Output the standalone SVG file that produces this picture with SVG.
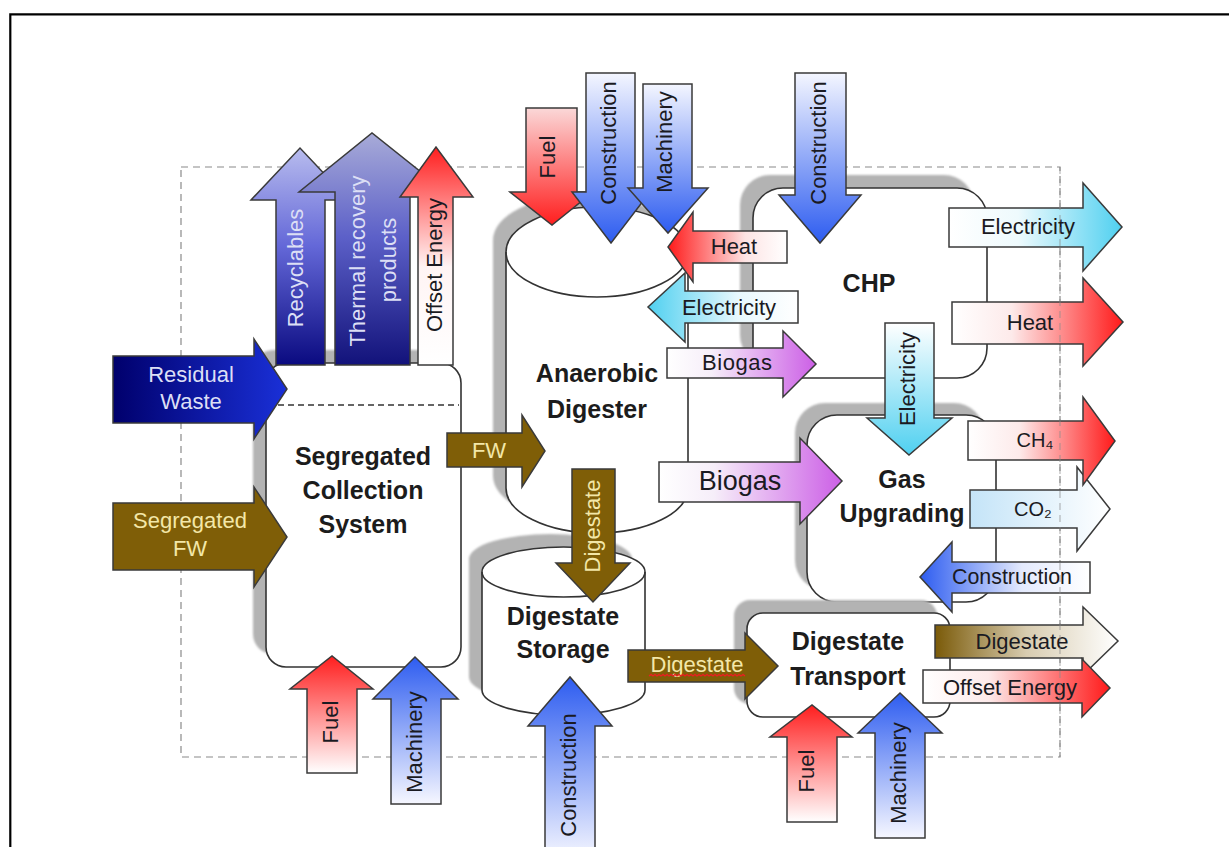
<svg xmlns="http://www.w3.org/2000/svg" width="1229" height="847" viewBox="0 0 1229 847">
<style>
text{font-family:"Liberation Sans",Arial,sans-serif}
.lbl{font-size:22px;fill:#1a1a22;text-anchor:middle}
.lt{font-size:22px;fill:#f3e7a8;text-anchor:middle}
.lw{font-size:22px;fill:#dcdff5;text-anchor:middle}
.node{font-size:25px;font-weight:bold;fill:#1c1c1c;text-anchor:middle}
.box{fill:#fff;stroke:#333;stroke-width:1.6}
.sh{fill:#b3b3b3;filter:url(#blur)}
.ar{stroke:#3a3a3a;stroke-width:1.5;stroke-linejoin:miter}
.brown{fill:#7f5e07}
</style>
<defs>
<filter id="blur" x="-5%" y="-5%" width="110%" height="110%"><feGaussianBlur stdDeviation="1.2"/></filter>
<linearGradient id="gNavyR" x1="0" y1="0" x2="1" y2="0"><stop offset="0" stop-color="#00006c"/><stop offset="1" stop-color="#1a30d8"/></linearGradient>
<linearGradient id="gRecyc" x1="0" y1="0" x2="0" y2="1"><stop offset="0" stop-color="#b8bcee"/><stop offset="0.45" stop-color="#6468d8"/><stop offset="1" stop-color="#0a0a80"/></linearGradient>
<linearGradient id="gThermal" x1="0" y1="0" x2="0" y2="1"><stop offset="0" stop-color="#a8abd8"/><stop offset="0.45" stop-color="#5c60c8"/><stop offset="1" stop-color="#12127a"/></linearGradient>
<linearGradient id="gOffsetUp" x1="0" y1="0" x2="0" y2="1"><stop offset="0" stop-color="#ff1e1e"/><stop offset="0.55" stop-color="#fff4f4"/><stop offset="1" stop-color="#ffffff"/></linearGradient>
<linearGradient id="gRedDown" x1="0" y1="0" x2="0" y2="1"><stop offset="0" stop-color="#fbd8d8"/><stop offset="1" stop-color="#ff1e1e"/></linearGradient>
<linearGradient id="gBlueDown" x1="0" y1="0" x2="0" y2="1"><stop offset="0" stop-color="#f4f6ff"/><stop offset="1" stop-color="#2d5cf0"/></linearGradient>
<linearGradient id="gCyanDown" x1="0" y1="0" x2="0" y2="1"><stop offset="0" stop-color="#ffffff"/><stop offset="1" stop-color="#4fd0f0"/></linearGradient>
<linearGradient id="gRedUp" x1="0" y1="0" x2="0" y2="1"><stop offset="0" stop-color="#ff1e1e"/><stop offset="1" stop-color="#ffffff"/></linearGradient>
<linearGradient id="gBlueUp" x1="0" y1="0" x2="0" y2="1"><stop offset="0" stop-color="#2d5cf0"/><stop offset="1" stop-color="#f6f7ff"/></linearGradient>
<linearGradient id="gRedR" x1="0" y1="0" x2="1" y2="0"><stop offset="0" stop-color="#ffffff"/><stop offset="0.35" stop-color="#fdeaea"/><stop offset="1" stop-color="#ff1a1a"/></linearGradient>
<linearGradient id="gCyanR" x1="0" y1="0" x2="1" y2="0"><stop offset="0" stop-color="#ffffff"/><stop offset="0.4" stop-color="#eefafd"/><stop offset="1" stop-color="#4fd0f0"/></linearGradient>
<linearGradient id="gVioletR" x1="0" y1="0" x2="1" y2="0"><stop offset="0" stop-color="#ffffff"/><stop offset="0.3" stop-color="#f6eef9"/><stop offset="1" stop-color="#cc5fe6"/></linearGradient>
<linearGradient id="gCO2" x1="0" y1="0" x2="1" y2="0"><stop offset="0" stop-color="#c4e4f8"/><stop offset="1" stop-color="#ffffff"/></linearGradient>
<linearGradient id="gBrownR" x1="0" y1="0" x2="1" y2="0"><stop offset="0" stop-color="#7a5a08"/><stop offset="0.5" stop-color="#d8ccb0"/><stop offset="1" stop-color="#ffffff"/></linearGradient>
<linearGradient id="gRedL" x1="0" y1="0" x2="1" y2="0"><stop offset="0" stop-color="#ff1a1a"/><stop offset="0.65" stop-color="#fde4e4"/><stop offset="1" stop-color="#ffffff"/></linearGradient>
<linearGradient id="gCyanL" x1="0" y1="0" x2="1" y2="0"><stop offset="0" stop-color="#4fd0f0"/><stop offset="0.6" stop-color="#e8f8fd"/><stop offset="1" stop-color="#ffffff"/></linearGradient>
<linearGradient id="gBlueL" x1="0" y1="0" x2="1" y2="0"><stop offset="0" stop-color="#2d5cf0"/><stop offset="0.6" stop-color="#e4eafd"/><stop offset="1" stop-color="#ffffff"/></linearGradient>
</defs>
<rect width="1229" height="847" fill="#ffffff"/>
<g id="frame" fill="none" stroke="#000" stroke-width="2.2">
<path d="M10.3,847 V14.3 H1229"/>
</g>
<g id="system-boundary">
<rect x="181" y="167" width="879" height="590" fill="none" stroke="#8a8a8a" stroke-width="1.2" stroke-dasharray="7 5"/>
</g>
<g id="node-segregated-collection">
<rect class="sh" x="253" y="350" width="195" height="304" rx="20"/>
<rect class="box" x="266" y="363" width="195" height="304" rx="20"/>
<line x1="268" y1="405" x2="459" y2="405" stroke="#333" stroke-width="1.4" stroke-dasharray="6 4"/>
<text class="node" x="363" y="465">Segregated</text>
<text class="node" x="363" y="499">Collection</text>
<text class="node" x="363" y="533">System</text>
</g>
<g id="node-anaerobic-digester">
<path class="sh" d="M493,240 A91,45 0 0 1 675,240 L675,476 A91,45 0 0 1 493,476 Z"/>
<path class="box" d="M506,252 A91,45 0 0 1 688,252 L688,488 A91,45 0 0 1 506,488 Z"/>
<path d="M506,252 A91,45 0 0 0 688,252" fill="none" stroke="#333" stroke-width="1.6"/>
<text class="node" x="597" y="382">Anaerobic</text>
<text class="node" x="597" y="418">Digester</text>
</g>
<g id="node-digestate-storage">
<path class="sh" d="M469,559 A81.5,25 0 0 1 632,559 L632,677 A81.5,25 0 0 1 469,677 Z"/>
<path class="box" d="M482,572 A81.5,25 0 0 1 645,572 L645,690 A81.5,25 0 0 1 482,690 Z"/>
<path d="M482,572 A81.5,25 0 0 0 645,572" fill="none" stroke="#333" stroke-width="1.6"/>
<text class="node" x="563" y="625">Digestate</text>
<text class="node" x="563" y="658">Storage</text>
</g>
<g id="node-chp">
<rect class="sh" x="740" y="175" width="234" height="190" rx="30"/>
<rect class="box" x="753" y="188" width="234" height="190" rx="30"/>
<text class="node" x="869" y="292">CHP</text>
</g>
<g id="node-gas-upgrading">
<rect class="sh" x="795" y="403" width="189" height="187" rx="30"/>
<rect class="box" x="807" y="415" width="189" height="187" rx="30"/>
<text class="node" x="902" y="488">Gas</text>
<text class="node" x="902" y="522">Upgrading</text>
</g>
<g id="node-digestate-transport">
<rect class="sh" x="734" y="600" width="203" height="104" rx="16"/>
<rect class="box" x="747" y="613" width="203" height="104" rx="16"/>
<text class="node" x="848" y="650">Digestate</text>
<text class="node" x="848" y="685">Transport</text>
</g>
<g id="connectors">
<g id="flow-residual-waste">
<polygon class="ar" fill="url(#gNavyR)" points="113,356 254,356 254,339 287,389 254,439 254,423 113,423"/>
<text class="lw" x="191" y="382">Residual</text>
<text class="lw" x="191" y="409">Waste</text>
</g>
<g id="flow-segregated-fw">
<polygon class="ar brown" points="113,503 254,503 254,487 287,537 254,587 254,570 113,570"/>
<text class="lt" x="190" y="528">Segregated</text>
<text class="lt" x="190" y="556">FW</text>
</g>
<g id="flow-recyclables">
<polygon class="ar" fill="url(#gRecyc)" points="276,365 325,365 325,200 349,200 300,148 251,200 276,200"/>
<text class="lw" transform="translate(295,268) rotate(-90)" dy="0.35em">Recyclables</text>
</g>
<g id="flow-thermal">
<polygon class="ar" fill="url(#gThermal)" points="335,365 410,365 410,192 446,192 372,133 299,192 335,192"/>
<text class="lw" transform="translate(357,261) rotate(-90)" dy="0.35em">Thermal recovery</text>
<text class="lw" transform="translate(388,260) rotate(-90)" dy="0.35em">products</text>
</g>
<g id="flow-offset-energy-top">
<polygon class="ar" fill="url(#gOffsetUp)" points="418,365 453,365 453,197 473,197 436,147 400,197 418,197"/>
<text class="lbl" transform="translate(434,265) rotate(-90)" dy="0.35em">Offset Energy</text>
</g>
<g id="flow-fw">
<polygon class="ar brown" points="447,433 522,433 522,415 545,451 522,487 522,467 447,467"/>
<text class="lt" x="489" y="458">FW</text>
</g>
<g id="flow-fuel-ad">
<polygon class="ar" fill="url(#gRedDown)" points="526,108 577,108 577,192 593,192 552,225 510,192 526,192"/>
<text class="lbl" transform="translate(547,157) rotate(-90)" dy="0.35em">Fuel</text>
</g>
<g id="flow-construction-ad">
<polygon class="ar" fill="url(#gBlueDown)" points="586,73 635,73 635,192 650,192 611,243 572,192 586,192"/>
<text class="lbl" transform="translate(608,143) rotate(-90)" dy="0.35em">Construction</text>
</g>
<g id="flow-machinery-ad">
<polygon class="ar" fill="url(#gBlueDown)" points="643,84 692,84 692,188 708,188 668,233 628,188 643,188"/>
<text class="lbl" transform="translate(664,142) rotate(-90)" dy="0.35em">Machinery</text>
</g>
<g id="flow-heat-ad">
<polygon class="ar" fill="url(#gRedL)" points="787,231 693,231 693,212 668,247 693,282 693,263 787,263"/>
<text class="lbl" x="734" y="254">Heat</text>
</g>
<g id="flow-electricity-ad">
<polygon class="ar" fill="url(#gCyanL)" points="798,291 685,291 685,273 648,307 685,342 685,323 798,323"/>
<text class="lbl" x="729" y="315">Electricity</text>
</g>
<g id="flow-biogas-chp">
<polygon class="ar" fill="url(#gVioletR)" points="667,348 783,348 783,331 816,364 783,397 783,378 667,378"/>
<text class="lbl" x="737" y="370" textLength="70">Biogas</text>
</g>
<g id="flow-biogas-gu">
<polygon class="ar" fill="url(#gVioletR)" points="659,462 800,462 800,438 842,481 800,524 800,502 659,502"/>
<text class="lbl" x="740" y="490" style="font-size:27px">Biogas</text>
</g>
<g id="flow-construction-chp">
<polygon class="ar" fill="url(#gBlueDown)" points="795,73 846,73 846,195 861,195 820,243 779,195 795,195"/>
<text class="lbl" transform="translate(818,143) rotate(-90)" dy="0.35em">Construction</text>
</g>
<g id="flow-electricity-out">
<polygon class="ar" fill="url(#gCyanR)" points="949,208 1083,208 1083,183 1122,227 1083,271 1083,247 949,247"/>
<text class="lbl" x="1028" y="234">Electricity</text>
</g>
<g id="flow-heat-out">
<polygon class="ar" fill="url(#gRedR)" points="952,302 1083,302 1083,278 1123,322 1083,366 1083,344 952,344"/>
<text class="lbl" x="1030" y="330">Heat</text>
</g>
<g id="flow-electricity-gu">
<polygon class="ar" fill="url(#gCyanDown)" points="885,323 934,323 934,418 952,418 909,455 867,418 885,418"/>
<text class="lbl" transform="translate(907,379) rotate(-90)" dy="0.35em">Electricity</text>
</g>
<g id="flow-co2">
<polygon class="ar" fill="url(#gCO2)" points="970,490 1077,490 1077,467 1110,509 1077,551 1077,528 970,528"/>
<text class="lbl" x="1033" y="516" style="font-size:20px">CO₂</text>
</g>
<g id="flow-ch4">
<polygon class="ar" fill="url(#gRedR)" points="968,421 1083,421 1083,397 1115,441 1083,485 1083,460 968,460"/>
<text class="lbl" x="1035" y="447" style="font-size:20px">CH₄</text>
</g>
<g id="flow-construction-gu">
<polygon class="ar" fill="url(#gBlueL)" points="1090,562 952,562 952,542 920,577 952,612 952,593 1090,593"/>
<text class="lbl" x="1012" y="584" textLength="120" lengthAdjust="spacingAndGlyphs">Construction</text>
</g>
<g id="flow-digestate-storage">
<polygon class="ar brown" points="572,469 615,469 615,563 630,563 593,602 556,563 572,563"/>
<text class="lt" transform="translate(592,526) rotate(-90)" dy="0.35em">Digestate</text>
</g>
<g id="flow-digestate-transport">
<polygon class="ar brown" points="628,650 745,650 745,633 778,666 745,699 745,682 628,682"/>
<text class="lt" x="697" y="672">Digestate</text>
<path d="M649,676 l2,-1.6 l2,1.6 l2,-1.6 l2,1.6 l2,-1.6 l2,1.6 l2,-1.6 l2,1.6 l2,-1.6 l2,1.6 l2,-1.6 l2,1.6 l2,-1.6 l2,1.6 l2,-1.6 l2,1.6 l2,-1.6 l2,1.6 l2,-1.6 l2,1.6 l2,-1.6 l2,1.6 l2,-1.6 l2,1.6 l2,-1.6 l2,1.6 l2,-1.6 l2,1.6 l2,-1.6 l2,1.6 l2,-1.6 l2,1.6 l2,-1.6 l2,1.6 l2,-1.6 l2,1.6 l2,-1.6 l2,1.6 l2,-1.6 l2,1.6 l2,-1.6 l2,1.6 l2,-1.6 l2,1.6 l2,-1.6 l2,1.6 l2,-1.6 l2,1.6" fill="none" stroke="#e82020" stroke-width="1.3"/>
</g>
<g id="flow-digestate-out">
<polygon class="ar" fill="url(#gBrownR)" points="935,625 1083,625 1083,607 1118,641 1083,675 1083,658 935,658"/>
<text class="lbl" x="1022" y="649">Digestate</text>
</g>
<g id="flow-offset-energy-out">
<polygon class="ar" fill="url(#gRedR)" points="923,670 1082,670 1082,659 1110,688 1082,717 1082,703 923,703"/>
<text class="lbl" x="1010" y="695">Offset Energy</text>
</g>
<g id="flow-fuel-scs">
<polygon class="ar" fill="url(#gRedUp)" points="307,773 357,773 357,689 373,689 332,656 290,689 307,689"/>
<text class="lbl" transform="translate(330,722) rotate(-90)" dy="0.35em">Fuel</text>
</g>
<g id="flow-machinery-scs">
<polygon class="ar" fill="url(#gBlueUp)" points="391,804 441,804 441,699 458,699 415,657 373,699 391,699"/>
<text class="lbl" transform="translate(414,742) rotate(-90)" dy="0.35em">Machinery</text>
</g>
<g id="flow-construction-storage">
<polygon class="ar" fill="url(#gBlueUp)" points="545,860 595,860 595,726 612,726 570,677 528,726 545,726"/>
<text class="lbl" transform="translate(568,775) rotate(-90)" dy="0.35em">Construction</text>
</g>
<g id="flow-fuel-transport">
<polygon class="ar" fill="url(#gRedUp)" points="787,822 837,822 837,737 852,737 812,705 770,737 787,737"/>
<text class="lbl" transform="translate(806,771) rotate(-90)" dy="0.35em">Fuel</text>
</g>
<g id="flow-machinery-transport">
<polygon class="ar" fill="url(#gBlueUp)" points="875,838 925,838 925,733 942,733 900,693 858,733 875,733"/>
<text class="lbl" transform="translate(898,773) rotate(-90)" dy="0.35em">Machinery</text>
</g>
</g>
<g id="boundary-overlay">
<line x1="1060" y1="167" x2="1060" y2="757" stroke="#8a8a8a" stroke-width="1.2" stroke-dasharray="7 5" opacity="0.6"/>
</g>
</svg>
